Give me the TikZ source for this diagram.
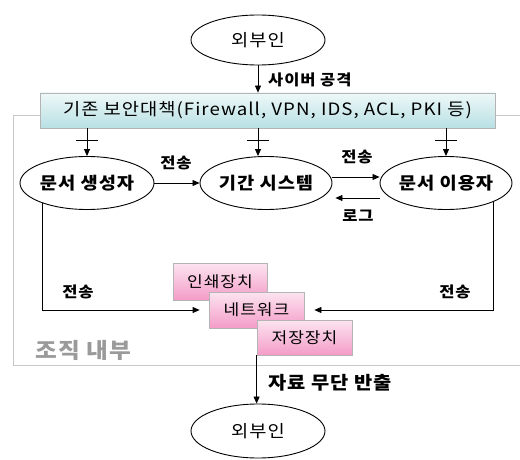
\documentclass[tikz,border=0pt]{standalone}
\usepackage{fontspec}
\setmainfont{Noto Sans CJK KR}[FakeStretch=1.1, LetterSpace=6]
\usetikzlibrary{arrows.meta,shapes.geometric,calc}
\definecolor{framegray}{HTML}{C8C8C8}
\definecolor{boxborder}{HTML}{B4B4B4}
\definecolor{cyantop}{HTML}{EEF8F8}
\definecolor{cyanbot}{HTML}{B8E0E4}
\definecolor{pinktop}{HTML}{FCE4F0}
\definecolor{pinkbot}{HTML}{F49CC8}
\definecolor{labgray}{HTML}{9A9A9A}
\newcommand{\zw}[1]{\makebox[0pt]{#1}}
\tikzset{
  ell/.style={draw, ellipse, line width=0.9pt, inner sep=0pt, minimum width=134pt, minimum height=53pt},
  secbox/.style={draw=boxborder, line width=0.8pt, top color=cyantop, bottom color=cyanbot, minimum width=455pt, minimum height=35pt, inner sep=0pt, font=\fontsize{17}{17}\selectfont},
  pbox/.style={draw=boxborder, line width=0.8pt, top color=pinktop, bottom color=pinkbot, minimum width=95pt, minimum height=36pt, inner sep=0pt, font=\fontsize{15.5}{15.5}\selectfont},
  arr/.style={-{Triangle[length=7pt,width=6pt]}, line width=0.8pt},
  lab/.style={font=\bfseries\fontsize{15}{15}\selectfont, inner sep=0pt},
  tick/.style={line width=0.8pt}
}
\begin{document}
\begin{tikzpicture}[x=1pt,y=-1pt]
\useasboundingbox (0,0) rectangle (520,460);
\clip (0,0) rectangle (520,460);
% organisation frame
\draw[framegray, line width=0.9pt] (13,115) rectangle (560,365);
\node[labgray, font=\bfseries\fontsize{21.5}{21.5}\selectfont, anchor=west, inner sep=0pt] (org) at (35,350) {조직 내부};
% security measures box
\node[secbox] (sec) at (267.5,110.5) {기존 보안대책(Firewall, VPN, IDS, ACL, PKI 등)};
% ellipses
\node[ell, font=\fontsize{17}{17}\selectfont, minimum height=50pt] (top) at (258,40) {\zw{외부인}};
\node[ell, font=\bfseries\fontsize{17}{17}\selectfont] (gen) at (87,183) {\zw{문서 생성자}};
\node[ell, font=\bfseries\fontsize{17}{17}\selectfont, minimum width=132pt] (sys) at (266,183) {\zw{기간 시스템}};
\node[ell, font=\bfseries\fontsize{17}{17}\selectfont, minimum width=132pt] (use) at (446,183) {\zw{문서 이용자}};
\node[ell, font=\fontsize{17}{17}\selectfont, minimum height=54pt] (bot) at (258,431) {\zw{외부인}};
% devices
\node[pbox, minimum width=94pt, minimum height=37pt] (prn) at (220,281.5) {인쇄장치};
\node[pbox] (net) at (256.5,310) {네트워크};
\node[pbox, minimum height=35pt] (sto) at (304.5,337.5) {저장장치};
% cyber attack
\draw[arr] (top.south) -- (top.south |- sec.north);
\node[lab, anchor=west] (atk) at (268,80) {사이버 공격};
% arrows from security box with ticks
\draw[arr] (sec.south -| gen) -- (gen.north);
\draw[arr] (sec.south -| top) -- (top |- sys.north);
\draw[arr] (sec.south -| use) -- (use.north);
\path (sec.south -| gen) ++(0,12) coordinate (t1);
\path (sec.south -| top) ++(0,12) coordinate (t2);
\path (sec.south -| use) ++(0,12) coordinate (t3);
\foreach \t in {t1,t2,t3} \draw[tick] ([xshift=-11pt]\t) -- ([xshift=11pt]\t);
% horizontal flows
\draw[arr] (gen.east) -- (sys.west);
\node[lab] (l1) at (176,163) {전송};
\draw[arr] ([yshift=6pt]sys.east) -- ([yshift=6pt]use.west);
\node[lab] (l2) at (357,157) {전송};
\draw[arr, shorten >=3pt] ([yshift=-15pt]use.west) -- ([yshift=-15pt]sys.east);
\node[lab] (l3) at (358,216) {로그};
% to network
\draw[arr, shorten >=9pt] (gen.204) |- (net.west);
\node[lab] (l4) at (78,292) {전송};
\draw[arr, shorten >=10pt] (use.338) |- (net.east);
\node[lab] (l5) at (455,292) {전송};
% exfiltration
\draw[arr] (sto.south west) -- (sto.south west |- bot.north);
\node[lab, font=\bfseries\fontsize{18}{18}\selectfont, anchor=west] (exf) at (268,383) {자료 무단 반출};
\end{tikzpicture}
\end{document}
